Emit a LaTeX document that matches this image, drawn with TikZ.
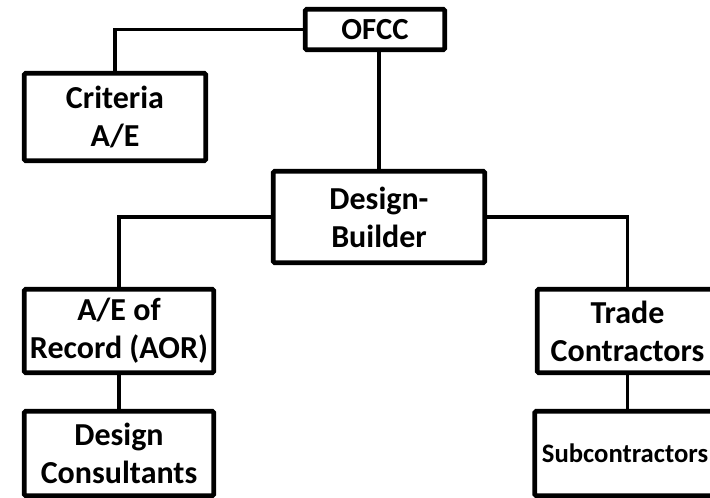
\documentclass[tikz,border=0pt]{standalone}
\usepackage{fontspec}
\setmainfont{Carlito}
\usepackage{tikz}

\tikzset{
    orgbox/.style={draw, line width=3.5pt, rounded corners=1pt, fill=white,
                   align=center, inner sep=0pt, font=\bfseries\fontsize{24}{28.5}\selectfont},
    orgline/.style={line width=2.5pt}
}

\begin{document}
\begin{tikzpicture}[x=0.75pt, y=-0.75pt]

    % Frame
    \useasboundingbox (0, 0) rectangle (710, 498);
    \clip (0, 0) rectangle (710, 498);

    % Top
    \node[orgbox, minimum width=104.6pt, minimum height=30.4pt,
          font=\bfseries\fontsize{23}{27}\selectfont] (ofcc) at (375, 29.5) {OFCC};
    \node[orgbox, minimum width=136.1pt, minimum height=65.6pt] (criteria) at (115, 117) {Criteria\\A/E};

    % Middle
    \node[orgbox, minimum width=158.6pt, minimum height=68.6pt] (builder) at (379, 217) {Design-\\Builder};

    % Left branch
    \node[orgbox, minimum width=142.1pt, minimum height=62.6pt] (aor) at (119, 331) {A/E of\\Record (AOR)};
    \node[orgbox, minimum width=142.1pt, minimum height=63.4pt] (consult) at (119, 453.5) {Design\\Consultants};

    % Right branch
    \node[orgbox, minimum width=135.4pt, minimum height=62.6pt] (trade) at (627.5, 331) {Trade\\Contractors};
    \node[orgbox, minimum width=135.4pt, minimum height=63.4pt,
          font=\bfseries\fontsize{20}{24}\selectfont] (sub) at (625, 453.5) {Subcontractors};

    % Lines
    \draw[orgline] (criteria.north) |- (ofcc.west);
    \draw[orgline] (builder.north) -- (builder.north |- ofcc.south);
    \draw[orgline] (builder.west) -| (aor.north);
    \draw[orgline] (builder.east) -| (trade.north);
    \draw[orgline] (aor.south) -- (consult.north -| aor.south);
    \draw[orgline] (trade.south) -- (sub.north -| trade.south);

\end{tikzpicture}
\end{document}
